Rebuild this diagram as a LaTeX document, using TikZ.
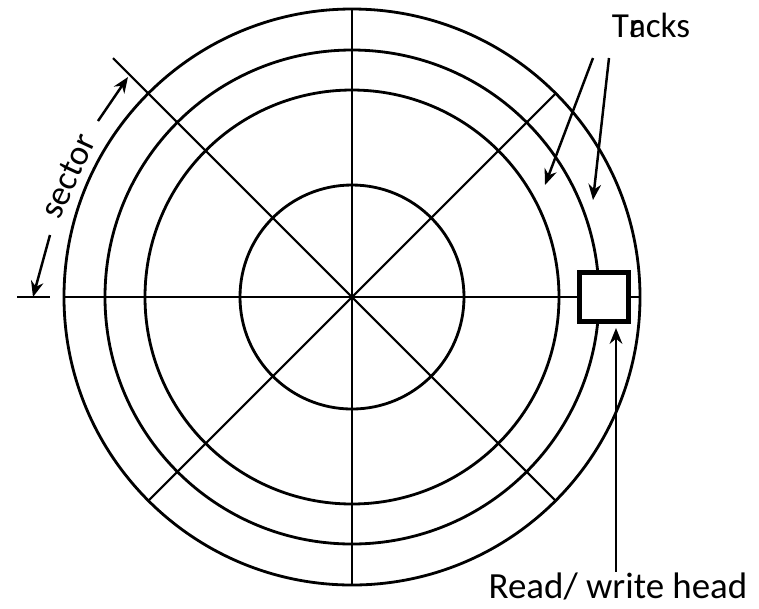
\documentclass[tikz,border=0pt]{standalone}
\usepackage{fontspec}
\setmainfont{Carlito}
\usepackage{tikz}
\usetikzlibrary{
    arrows.meta,
    positioning,
    calc
}

\begin{document}
\begin{tikzpicture}[
    track/.style={line width=0.8pt},
    spoke/.style={line width=0.6pt},
    pointer/.style={line width=0.7pt, -{Stealth[length=4.5pt,width=3.6pt]}},
    lbl/.style={font=\fontsize{10}{12}\selectfont, inner sep=0pt}
]

\useasboundingbox (-3.52,-3.11) rectangle (4.07,2.97);

% radii of the tracks (outer -> inner)
\def\Ra{2.88}  \def\Rb{2.47}  \def\Rc{2.07}  \def\Rd{1.12}

% Spokes: every 45deg, the 135deg one runs on as the sector mark
\draw[spoke] (180:\Ra) -- (0:\Ra);
\draw[spoke] (270:\Ra) -- (90:\Ra);
\draw[spoke] (225:\Ra) -- (45:\Ra);
\draw[spoke] (315:\Ra) -- (135:3.38);
\draw[spoke] (180:3.02) -- (180:3.35);  % sector mark, left

% Tracks
\draw[track] (0,0) circle (\Ra);
\draw[track] (0,0) circle (\Rb);
\draw[track] (0,0) circle (\Rc);
\draw[track] (0,0) circle (\Rd);

% Read/write head
\node[draw, fill=white, line width=1.4pt, minimum size=0.49cm, inner sep=0pt] (head) at (2.52,0) {};

% Labels
\node[lbl, font=\fontsize{10.5}{12}\selectfont, anchor=base] (rw) at (2.66,-3.01) {Read/ write head};
\node[lbl, anchor=base] (tracks) at (2.99,2.60) {T\rlap{r}acks};
\node[lbl, rotate=65] (sector) at (-2.84,1.21) {sector};

% Pointers
\coordinate (rwtip) at (2.64,-0.31);
\draw[pointer] (rw.north -| rwtip) -- (rwtip);

\coordinate (trkA) at (2.41,2.39);
\coordinate (trkB) at (2.57,2.39);
\draw[pointer] (trkA) -- (1.93,1.12);
\draw[pointer] (trkB) -- (2.41,0.97);

\coordinate (secA) at (-2.54,1.76);
\coordinate (secB) at (-3.02,0.62);
\draw[pointer] (secA) -- (-2.24,2.20);
\draw[pointer] (secB) -- (-3.19,0.0);

\end{tikzpicture}
\end{document}
